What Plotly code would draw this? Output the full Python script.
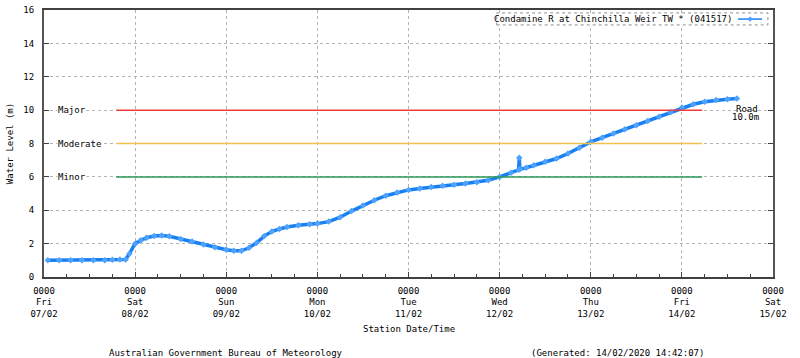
import plotly.graph_objects as go

# ---- data ----
times = [
    "2020-02-07 01:00", "2020-02-07 04:00", "2020-02-07 07:00", "2020-02-07 10:00",
    "2020-02-07 13:00", "2020-02-07 16:00", "2020-02-07 18:00", "2020-02-07 20:00",
    "2020-02-07 21:30", "2020-02-07 22:30",
    "2020-02-08 00:00", "2020-02-08 01:30", "2020-02-08 03:00", "2020-02-08 05:00",
    "2020-02-08 07:00", "2020-02-08 09:00", "2020-02-08 12:00", "2020-02-08 15:00",
    "2020-02-08 18:00", "2020-02-08 21:00",
    "2020-02-09 00:00", "2020-02-09 02:00", "2020-02-09 04:00", "2020-02-09 06:00",
    "2020-02-09 08:00", "2020-02-09 10:00", "2020-02-09 12:00", "2020-02-09 14:00",
    "2020-02-09 16:00", "2020-02-09 19:00", "2020-02-09 22:00",
    "2020-02-10 00:00", "2020-02-10 03:00", "2020-02-10 06:00", "2020-02-10 09:00",
    "2020-02-10 12:00", "2020-02-10 15:00", "2020-02-10 18:00", "2020-02-10 21:00",
    "2020-02-11 00:00", "2020-02-11 03:00", "2020-02-11 06:00", "2020-02-11 09:00",
    "2020-02-11 12:00", "2020-02-11 15:00", "2020-02-11 18:00", "2020-02-11 21:00",
    "2020-02-12 00:00", "2020-02-12 03:00", "2020-02-12 05:00", "2020-02-12 05:10",
    "2020-02-12 05:20", "2020-02-12 07:00", "2020-02-12 09:00", "2020-02-12 12:00",
    "2020-02-12 15:00", "2020-02-12 18:00", "2020-02-12 21:00",
    "2020-02-13 00:00", "2020-02-13 03:00", "2020-02-13 06:00", "2020-02-13 09:00",
    "2020-02-13 12:00", "2020-02-13 15:00", "2020-02-13 18:00", "2020-02-13 21:00",
    "2020-02-14 00:00", "2020-02-14 03:00", "2020-02-14 06:00", "2020-02-14 09:00",
    "2020-02-14 12:00", "2020-02-14 14:30",
]
levels = [
    1.00, 1.00, 1.00, 1.00,
    1.00, 1.01, 1.04, 1.05,
    1.05, 1.40,
    2.00, 2.20, 2.35, 2.46,
    2.48, 2.44, 2.28, 2.12,
    1.95, 1.78,
    1.63, 1.58, 1.57, 1.75,
    2.05, 2.45, 2.72, 2.88,
    3.00, 3.10, 3.16,
    3.20, 3.32, 3.58, 3.95,
    4.28, 4.60, 4.87, 5.07,
    5.22, 5.31, 5.40, 5.47,
    5.53, 5.60, 5.68, 5.80,
    6.00, 6.25, 6.42, 7.15,
    6.45, 6.55, 6.70, 6.90,
    7.10, 7.40, 7.75,
    8.10, 8.35, 8.60, 8.85,
    9.10, 9.35, 9.60, 9.88,
    10.15, 10.35, 10.50, 10.60,
    10.65, 10.70,
]
series_name = "Condamine R at Chinchilla Weir TW * (041517)"

day_ticks = ["2020-02-07", "2020-02-08", "2020-02-09", "2020-02-10", "2020-02-11",
             "2020-02-12", "2020-02-13", "2020-02-14", "2020-02-15"]
day_labels = ["0000<br>Fri<br>07/02", "0000<br>Sat<br>08/02", "0000<br>Sun<br>09/02",
              "0000<br>Mon<br>10/02", "0000<br>Tue<br>11/02", "0000<br>Wed<br>12/02",
              "0000<br>Thu<br>13/02", "0000<br>Fri<br>14/02", "0000<br>Sat<br>15/02"]

flood_names = ["Major", "Moderate", "Minor"]
flood_levels = [10, 8, 6]
flood_colors = ["#f03c3c", "#f2c14e", "#2a9a5a"]
flood_start = "2020-02-07 19:00"
flood_end = "2020-02-14 05:20"

y_ticks = [0, 2, 4, 6, 8, 10, 12, 14, 16]

FONT = "DejaVu Sans Mono"
fig = go.Figure()

fig.add_trace(go.Scatter(
    x=times, y=levels, mode="lines+markers", name=series_name,
    line=dict(color="#1a80f2", width=3.5),
    marker=dict(symbol="diamond", size=5, color="#4da3ff"),
    showlegend=False,
))

shapes = []
annotations = []
for name, lvl, col in zip(flood_names, flood_levels, flood_colors):
    shapes.append(dict(type="line", xref="x", yref="y", x0=flood_start, x1=flood_end,
                       y0=lvl, y1=lvl, line=dict(color=col, width=1.5), layer="above"))
    annotations.append(dict(xref="paper", yref="y", x=0.018, y=lvl, text=name,
                            xanchor="left", yanchor="middle", showarrow=False,
                            bgcolor="white", borderpad=0,
                            font=dict(family=FONT, size=9, color="#000")))

# legend box (symbol on the right as in the original)
shapes.append(dict(type="rect", xref="paper", yref="paper", x0=0.621, x1=0.993,
                   y0=0.944, y1=0.989, line=dict(color="#909090", width=1, dash="dot"),
                   fillcolor="white", layer="above"))
shapes.append(dict(type="line", xref="paper", yref="paper", x0=0.952, x1=0.985,
                   y0=0.966, y1=0.966, line=dict(color="#1a80f2", width=1.5), layer="above"))
shapes.append(dict(type="circle", xref="paper", yref="paper", x0=0.9665, x1=0.9705,
                   y0=0.959, y1=0.973, line=dict(color="#4da3ff", width=1),
                   fillcolor="#4da3ff", layer="above"))
annotations.append(dict(xref="paper", yref="paper", x=0.946, y=0.966, text=series_name,
                        xanchor="right", yanchor="middle", showarrow=False,
                        font=dict(family=FONT, size=9, color="#000")))

annotations += [
    dict(xref="paper", yref="y", x=0.965, y=10, yshift=1, text="Road", showarrow=False,
         xanchor="center", yanchor="middle", font=dict(family=FONT, size=9, color="#000")),
    dict(xref="paper", yref="y", x=0.9616, y=10, yshift=-7, text="10.0m", showarrow=False,
         xanchor="center", yanchor="middle", font=dict(family=FONT, size=9, color="#000")),
    dict(xref="paper", yref="paper", x=0.5, y=-0.193, text="Station Date/Time",
         showarrow=False, xanchor="center", yanchor="middle",
         font=dict(family=FONT, size=9, color="#000")),
    dict(xref="paper", yref="paper", x=0.250, y=-0.283,
         text="Australian Government Bureau of Meteorology", showarrow=False,
         xanchor="center", yanchor="middle", font=dict(family=FONT, size=9, color="#000")),
    dict(xref="paper", yref="paper", x=0.787, y=-0.283,
         text="(Generated: 14/02/2020 14:42:07)", showarrow=False,
         xanchor="center", yanchor="middle", font=dict(family=FONT, size=9, color="#000")),
]

fig.update_layout(
    width=800, height=358,
    margin=dict(l=44, r=27, t=10, b=81, autoexpand=False),
    paper_bgcolor="white", plot_bgcolor="white",
    font=dict(family=FONT, size=9, color="#000"),
    shapes=shapes, annotations=annotations,
    xaxis=dict(
        type="date", range=[day_ticks[0], day_ticks[-1]],
        tickmode="array", tickvals=day_ticks, ticktext=day_labels,
        ticks="inside", ticklen=5, tickcolor="#404040", ticklabelstandoff=4,
        showgrid=True, gridcolor="#b4b4b4", griddash="dot", gridwidth=1,
        minor=dict(tickmode="linear", tick0=day_ticks[0], dtick=6 * 3600 * 1000,
                   ticks="inside", ticklen=3, tickcolor="#404040", showgrid=False),
        showline=True, linecolor="#404040", linewidth=1.5, mirror=True,
        zeroline=False, automargin=False,
    ),
    yaxis=dict(
        range=[0, 16], tickmode="array", tickvals=y_ticks,
        ticktext=[str(v) for v in y_ticks],
        ticks="inside", ticklen=5, tickcolor="#404040", ticklabelstandoff=6,
        showgrid=True, gridcolor="#b4b4b4", griddash="dot", gridwidth=1,
        showline=True, linecolor="#555555", linewidth=2, mirror="ticks",
        zeroline=False, automargin=False,
        title=dict(text="Water Level (m)", standoff=8, font=dict(family=FONT, size=9)),
    ),
)

fig.write_html(
    "out.html",
    config={"displayModeBar": False},
    post_script="document.body.style.margin='0';document.body.style.overflow='hidden';",
)
